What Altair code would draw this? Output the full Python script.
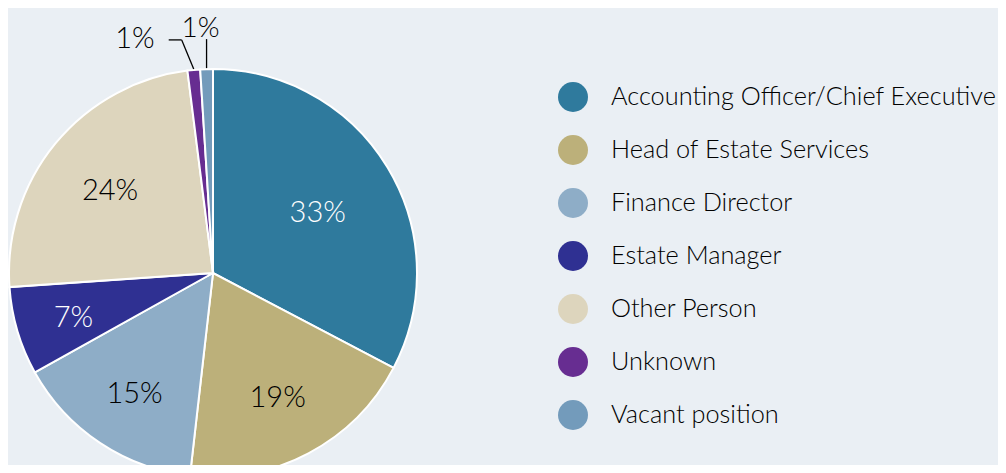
import altair as alt
import pandas as pd
import json

categories = [
    "Accounting Officer/Chief Executive",
    "Head of Estate Services",
    "Finance Director",
    "Estate Manager",
    "Other Person",
    "Unknown",
    "Vacant position",
]
values = [32.7, 19.1, 15.1, 7.0, 24.1, 1.0, 1.0]
labels = ["33%", "19%", "15%", "7%", "24%", "1%", "1%"]

colors = ["#2f7a9d", "#bcb07a", "#8eadc7", "#2f3092", "#ddd5bd", "#672d91", "#739bbb"]
white_label_cats = ["Accounting Officer/Chief Executive", "Estate Manager"]
outside_cats = ["Unknown", "Vacant position"]

W, H = 990, 457
CX, CY, R = 205, 265, 204
FONT = "Lato"
INK = "#000000"

df = pd.DataFrame({"cat": categories, "value": values, "label": labels,
                   "idx": list(range(len(categories)))})

base = (
    alt.Chart(df)
    .transform_joinaggregate(total="sum(value)")
    .transform_window(cum="sum(value)", sort=[alt.SortField("idx")], frame=[None, 0])
    .transform_calculate(
        a0="2*PI*(datum.cum - datum.value)/datum.total",
        a1="2*PI*datum.cum/datum.total",
        mid="2*PI*(datum.cum - datum.value/2)/datum.total",
        half="PI*datum.value/datum.total",
    )
    .transform_calculate(
        rl=f"1.08*(2/3)*{R}*sin(datum.half)/datum.half",
        rx=f"{CX} + {R+1}*sin(datum.mid)",
        ry=f"{CY} - {R+1}*cos(datum.mid)",
    )
    .transform_calculate(
        lx=f"{CX} + datum.rl*sin(datum.mid)",
        ly=f"{CY} - datum.rl*cos(datum.mid)",
    )
)

arcs = base.mark_arc(outerRadius=R, stroke="white", strokeWidth=2).encode(
    theta=alt.Theta("a0:Q", scale=None),
    theta2="a1:Q",
    x=alt.value(CX),
    y=alt.value(CY),
    color=alt.Color(
        "cat:N",
        scale=alt.Scale(domain=categories, range=colors),
        legend=alt.Legend(
            orient="none", legendX=550, legendY=74, title=None,
            symbolType="circle", symbolSize=900, symbolStrokeWidth=0,
            labelFont=FONT, labelFontSize=25.3, labelFontWeight=300,
            labelColor=INK, rowPadding=23, labelOffset=23, labelLimit=450,
        ),
    ),
)

outside_test = "indexof(" + json.dumps(outside_cats) + ", datum.cat) >= 0"
white_test = "indexof(" + json.dumps(white_label_cats) + ", datum.cat) >= 0"

inner_text = base.transform_filter("!(" + outside_test + ")").mark_text(
    font=FONT, fontSize=29, fontWeight=300, align="center", baseline="middle", dy=3
).encode(
    x=alt.X("lx:Q", scale=None, axis=None),
    y=alt.Y("ly:Q", scale=None, axis=None),
    text="label:N",
    color=alt.condition(white_test, alt.value("white"), alt.value(INK)),
)

# Unknown: diagonal leader then horizontal tick, label to the left
unk = base.transform_filter("datum.cat == 'Unknown'").transform_calculate(
    ex="datum.rx - 12", ey="datum.ry - 29"
).transform_calculate(hx="datum.ex - 13")

unk_rule1 = unk.mark_rule(color=INK, strokeWidth=1.3).encode(
    x=alt.X("rx:Q", scale=None, axis=None), y=alt.Y("ry:Q", scale=None, axis=None),
    x2="ex:Q", y2="ey:Q",
)
unk_rule2 = unk.mark_rule(color=INK, strokeWidth=1.3).encode(
    x=alt.X("ex:Q", scale=None, axis=None), y=alt.Y("ey:Q", scale=None, axis=None),
    x2="hx:Q", y2="ey:Q",
)
unk_text = unk.mark_text(
    font=FONT, fontSize=29, fontWeight=300, align="right", baseline="middle", dx=-14, dy=-1,
    color=INK,
).encode(
    x=alt.X("hx:Q", scale=None, axis=None), y=alt.Y("ey:Q", scale=None, axis=None),
    text="label:N",
)

# Vacant: vertical leader with label above
vac = base.transform_filter("datum.cat == 'Vacant position'").transform_calculate(
    ey="datum.ry - 29"
)
vac_rule = vac.mark_rule(color=INK, strokeWidth=1.3).encode(
    x=alt.X("rx:Q", scale=None, axis=None), y=alt.Y("ry:Q", scale=None, axis=None),
    x2="rx:Q", y2="ey:Q",
)
vac_text = vac.mark_text(
    font=FONT, fontSize=28, fontWeight=300, align="center", baseline="alphabetic", dx=-6, dy=-2,
    color=INK,
).encode(
    x=alt.X("rx:Q", scale=None, axis=None), y=alt.Y("ey:Q", scale=None, axis=None),
    text="label:N",
)

chart = (
    alt.layer(arcs, inner_text, unk_rule1, unk_rule2, unk_text, vac_rule, vac_text)
    .properties(width=W, height=H, autosize=alt.AutoSizeParams(type="none"), padding=0,
                background="#eaeff4")
    .configure_view(stroke=None)
)

chart.save("out.html", embed_options={"renderer": "svg", "actions": False})
